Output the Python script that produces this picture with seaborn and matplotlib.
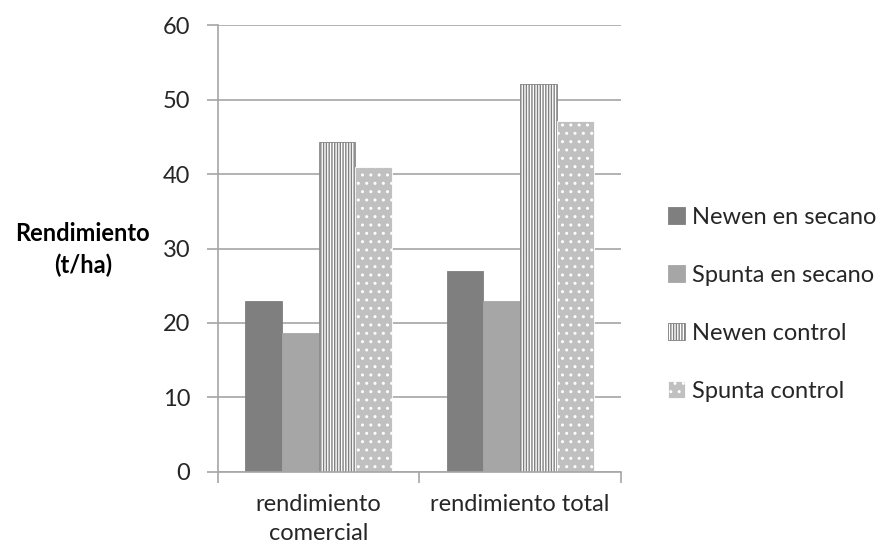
import pandas as pd
import numpy as np
import matplotlib
matplotlib.use("Agg")
import matplotlib.pyplot as plt
import seaborn as sns

# datos
categorias = ["rendimiento\ncomercial", "rendimiento total"]
series = ["Newen en secano", "Spunta en secano", "Newen control", "Spunta control"]
newen_secano = [23.0, 27.0]
spunta_secano = [18.6, 22.9]
newen_control = [44.3, 52.1]
spunta_control = [40.9, 47.1]

valores = [newen_secano, spunta_secano, newen_control, spunta_control]
df = pd.DataFrame({
    "categoria": [c for s in series for c in categorias],
    "serie": [s for s in series for c in categorias],
    "valor": [v for vals in valores for v in vals],
})

sns.set_style("white")
plt.rcParams["font.family"] = ["Lato", "DejaVu Sans"]
plt.rcParams["hatch.linewidth"] = 1.0

colores = ["#7f7f7f", "#a6a6a6", "#ffffff", "#c0c0c0"]
bordes = ["#7f7f7f", "#a6a6a6", "#808080", "#ffffff"]
tramas = [None, None, "||||||", ".."]

fig = plt.figure(figsize=(8.82, 5.48), dpi=100)
ax = fig.add_axes([0.247, 0.139, 0.457, 0.815])

sns.barplot(data=df, x="categoria", y="valor", hue="serie", hue_order=series,
            palette=colores, saturation=1, width=0.73, ax=ax, legend=False)

for cont, fc, ec, h in zip(ax.containers, colores, bordes, tramas):
    for p in cont:
        p.set_facecolor(fc)
        p.set_edgecolor(ec)
        p.set_linewidth(0.6)
        if h:
            p.set_hatch(h)

ax.set_ylim(0, 60)
ax.set_yticks(range(0, 61, 10))
ax.set_xlim(-0.5, 1.5)
ax.yaxis.grid(True, color="#a6a6a6", linewidth=1.2)
ax.set_axisbelow(True)

for s in ["top", "right"]:
    ax.spines[s].set_visible(False)
for s in ["left", "bottom"]:
    ax.spines[s].set_color("#a6a6a6")
    ax.spines[s].set_linewidth(1.2)

fs = 17
ax.tick_params(axis="y", which="major", length=8, width=1.2, color="#a6a6a6",
               labelsize=fs, labelcolor="#262626", pad=12, left=True)
ax.tick_params(axis="x", which="major", length=0, labelsize=fs,
               labelcolor="#262626", pad=16)
for t in ax.get_xticklabels():
    t.set_linespacing(1.45)
ax.set_xticks([-0.5, 0.5, 1.5], minor=True)
ax.tick_params(axis="x", which="minor", length=8, width=1.2, color="#a6a6a6", bottom=True)

ax.set_xlabel("")
ax.set_ylabel("Rendimiento\n(t/ha)", rotation=0, fontsize=fs, fontweight="bold",
              ha="center", va="center", color="#000000", linespacing=1.45)
ax.yaxis.set_label_coords(-0.335, 0.497)

handles = [cont[0] for cont in ax.containers]
ax.legend(handles, series, loc="center left", bbox_to_anchor=(1.117, 0.375),
          frameon=False, fontsize=fs, handlelength=0.72, handleheight=0.72,
          handletextpad=0.3, labelspacing=1.56, labelcolor="#262626",
          borderpad=0, borderaxespad=0)

fig.savefig("out.png", dpi=100)
